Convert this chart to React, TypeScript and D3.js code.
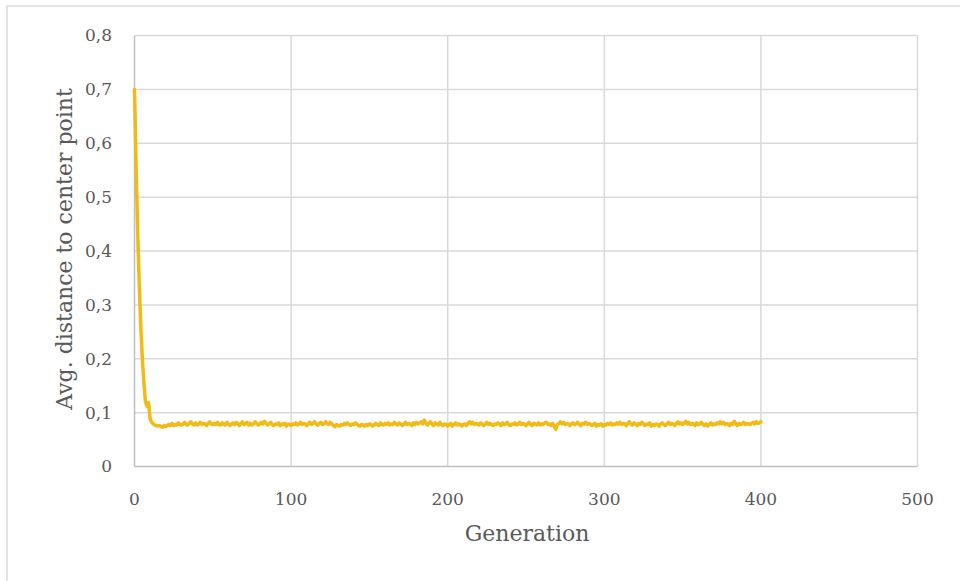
import React from "react";
import * as d3 from "d3";

const yTicks = [0, 0.1, 0.2, 0.3, 0.4, 0.5, 0.6, 0.7, 0.8];
const yTickLabels = ["0", "0,1", "0,2", "0,3", "0,4", "0,5", "0,6", "0,7", "0,8"];
const xTicks = [0, 100, 200, 300, 400, 500];
const xTickLabels = ["0", "100", "200", "300", "400", "500"];
const xTitle = "Generation";
const yTitle = "Avg. distance to center point";

// Avg. distance per generation (index = generation 0..400)
const avgDistance = [
  0.700, 0.560, 0.440, 0.340, 0.260, 0.200, 0.155, 0.120, 0.112, 0.118, 0.088,
  0.082, 0.079, 0.077, 0.076, 0.075, 0.076, 0.074, 0.073, 0.076, 0.074,
  0.076, 0.078, 0.076, 0.080, 0.076, 0.078, 0.077, 0.081, 0.078, 0.077,
  0.079, 0.082, 0.078, 0.077, 0.080, 0.083, 0.079, 0.077, 0.081, 0.077,
  0.079, 0.082, 0.078, 0.080, 0.079, 0.076, 0.080, 0.083, 0.079, 0.078,
  0.080, 0.078, 0.082, 0.078, 0.077, 0.081, 0.079, 0.077, 0.082, 0.079,
  0.076, 0.079, 0.081, 0.078, 0.082, 0.079, 0.076, 0.080, 0.083, 0.078,
  0.079, 0.082, 0.077, 0.080, 0.077, 0.079, 0.083, 0.080, 0.077, 0.079,
  0.082, 0.079, 0.084, 0.080, 0.077, 0.079, 0.082, 0.078, 0.076, 0.079,
  0.078, 0.081, 0.076, 0.079, 0.078, 0.080, 0.075, 0.079, 0.078, 0.076,
  0.079, 0.078, 0.081, 0.077, 0.079, 0.082, 0.078, 0.080, 0.079, 0.076,
  0.079, 0.082, 0.078, 0.080, 0.083, 0.079, 0.077, 0.080, 0.082, 0.078,
  0.079, 0.083, 0.080, 0.078, 0.082, 0.079, 0.076, 0.074, 0.078, 0.076,
  0.075, 0.078, 0.077, 0.080, 0.078, 0.081, 0.078, 0.076, 0.079, 0.078,
  0.081, 0.079, 0.076, 0.075, 0.078, 0.077, 0.075, 0.078, 0.076, 0.079,
  0.078, 0.075, 0.077, 0.080, 0.078, 0.076, 0.081, 0.078, 0.077, 0.080,
  0.078, 0.081, 0.077, 0.079, 0.078, 0.082, 0.079, 0.077, 0.081, 0.079,
  0.076, 0.079, 0.082, 0.078, 0.080, 0.079, 0.076, 0.081, 0.078, 0.082,
  0.079, 0.080, 0.083, 0.079, 0.086, 0.081, 0.077, 0.080, 0.083, 0.079,
  0.076, 0.081, 0.079, 0.077, 0.082, 0.078, 0.076, 0.079, 0.078, 0.075,
  0.078, 0.080, 0.075, 0.078, 0.081, 0.077, 0.079, 0.078, 0.075, 0.078,
  0.079, 0.076, 0.081, 0.083, 0.079, 0.082, 0.078, 0.080, 0.079, 0.077,
  0.081, 0.079, 0.076, 0.079, 0.082, 0.078, 0.080, 0.078, 0.076, 0.079,
  0.078, 0.081, 0.079, 0.076, 0.081, 0.078, 0.079, 0.082, 0.078, 0.076,
  0.079, 0.078, 0.081, 0.077, 0.079, 0.082, 0.078, 0.080, 0.079, 0.076,
  0.079, 0.082, 0.078, 0.076, 0.080, 0.079, 0.077, 0.081, 0.077, 0.079,
  0.078, 0.081, 0.082, 0.078, 0.079, 0.076, 0.080, 0.075, 0.069, 0.078,
  0.080, 0.083, 0.079, 0.082, 0.078, 0.080, 0.079, 0.076, 0.079, 0.081,
  0.078, 0.079, 0.082, 0.078, 0.076, 0.080, 0.079, 0.082, 0.078, 0.080,
  0.079, 0.076, 0.078, 0.080, 0.075, 0.078, 0.077, 0.079, 0.075, 0.078,
  0.077, 0.080, 0.078, 0.081, 0.077, 0.079, 0.078, 0.081, 0.079, 0.082,
  0.078, 0.080, 0.079, 0.076, 0.080, 0.083, 0.079, 0.077, 0.081, 0.079,
  0.076, 0.080, 0.078, 0.082, 0.079, 0.076, 0.079, 0.078, 0.081, 0.075,
  0.078, 0.076, 0.079, 0.078, 0.075, 0.079, 0.081, 0.078, 0.076, 0.079,
  0.082, 0.078, 0.080, 0.079, 0.076, 0.080, 0.083, 0.079, 0.081, 0.078,
  0.080, 0.084, 0.079, 0.082, 0.078, 0.080, 0.079, 0.076, 0.081, 0.078,
  0.079, 0.082, 0.078, 0.076, 0.079, 0.075, 0.078, 0.081, 0.077, 0.079,
  0.078, 0.081, 0.079, 0.083, 0.079, 0.082, 0.078, 0.080, 0.079, 0.076,
  0.080, 0.078, 0.084, 0.079, 0.076, 0.080, 0.078, 0.079, 0.082, 0.078,
  0.080, 0.079, 0.078, 0.080, 0.082, 0.079, 0.083, 0.080, 0.081, 0.083,
];

const W = 960;
const H = 581;
const FONT = "'DejaVu Serif', serif";
const TEXT = "#595959";
const GRID = "#D9D9D9";
const AXIS = "#BFBFBF";
const LINE = "#F2BA14";

export default function App() {
  const x = d3.scaleLinear().domain([0, 500]).range([134.5, 917.5]);
  const y = d3.scaleLinear().domain([0, 0.8]).range([466.5, 35.5]);
  const line = d3
    .line<number>()
    .x((_, i) => x(i))
    .y((d) => y(d));

  return (
    <svg
      width={W}
      height={H}
      style={{ position: "absolute", left: 0, top: 0, background: "#fff" }}
      fontFamily={FONT}
    >
      <rect x={7} y={6} width={W} height={H} fill="#fff" stroke={GRID} strokeWidth={1.5} />
      {yTicks.filter((t) => t > 0).map((t) => (
        <line key={"hy" + t} x1={x(0)} x2={x(500)} y1={y(t)} y2={y(t)} stroke={GRID} strokeWidth={1.5} />
      ))}
      {xTicks.filter((t) => t > 0).map((t) => (
        <line key={"vx" + t} x1={x(t)} x2={x(t)} y1={y(0)} y2={y(0.8)} stroke={GRID} strokeWidth={1.5} />
      ))}
      <line x1={x(0)} x2={x(500)} y1={y(0)} y2={y(0)} stroke={AXIS} strokeWidth={1.5} />
      <line x1={x(0)} x2={x(0)} y1={y(0)} y2={y(0.8)} stroke={AXIS} strokeWidth={1.5} />
      {yTicks.map((t, i) => (
        <text key={"yl" + t} x={112} y={y(t)} dy="0.35em" textAnchor="end" fontSize={17} fill={TEXT}>
          {yTickLabels[i]}
        </text>
      ))}
      {xTicks.map((t, i) => (
        <text key={"xl" + t} x={x(t)} y={505} textAnchor="middle" fontSize={17} fill={TEXT}>
          {xTickLabels[i]}
        </text>
      ))}
      <text x={527} y={541} textAnchor="middle" fontSize={22} fill={TEXT}>
        {xTitle}
      </text>
      <text
        transform={`translate(72, 249) rotate(-90)`}
        textAnchor="middle"
        fontSize={22}
        fill={TEXT}
      >
        {yTitle}
      </text>
      <path
        d={line(avgDistance) || ""}
        fill="none"
        stroke={LINE}
        strokeWidth={3.5}
        strokeLinejoin="round"
        strokeLinecap="round"
      />
    </svg>
  );
}
